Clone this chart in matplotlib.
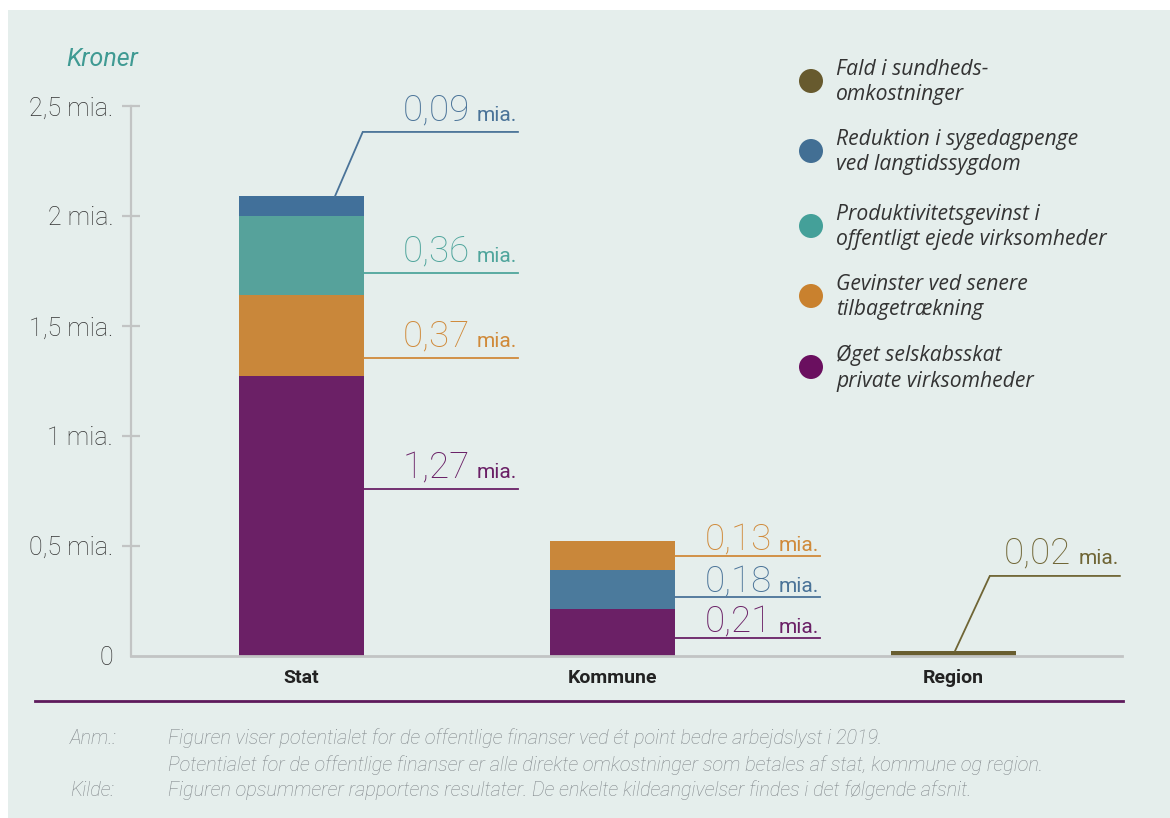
import matplotlib
matplotlib.use("Agg")
import matplotlib.pyplot as plt
from matplotlib.patches import Rectangle, Ellipse
from matplotlib.transforms import offset_copy

# ---------------- data ----------------
categories = ["Stat", "Kommune", "Region"]
series_names = ["Fald i sundheds-\nomkostninger",
                "Reduktion i sygedagpenge\nved langtidssygdom",
                "Produktivitetsgevinst i\noffentligt ejede virksomheder",
                "Gevinster ved senere\ntilbagetrækning",
                "Øget selskabsskat\nprivate virksomheder"]
sundhed = [0.0, 0.0, 0.02]
sygedagpenge = [0.09, 0.18, 0.0]
produktivitet = [0.36, 0.0, 0.0]
tilbagetraekning = [0.37, 0.13, 0.0]
selskabsskat = [1.27, 0.21, 0.0]
yticks = [0, 0.5, 1, 1.5, 2, 2.5]
ytick_labels = ["0", "0,5 mia.", "1 mia.", "1,5 mia.", "2 mia.", "2,5 mia."]

series_values = [sundhed, sygedagpenge, produktivitet, tilbagetraekning, selskabsskat]
series_colors = ["#695e30", "#41709a", "#56a29b", "#c9873a", "#6b2066"]
legend_colors = ["#675a2e", "#426f94", "#44a099", "#c9812e", "#6a0f5f"]
label_colors = ["#6f6535", "#4a7398", "#4fa59c", "#d08a3a", "#6a2066"]

# stacking order (series index) per category, bottom to top
stack_order = [[4, 3, 2, 1], [4, 1, 3], [0]]

# ---------------- layout ----------------
W, H = 1170, 818
fig = plt.figure(figsize=(W / 100, H / 100), dpi=100, facecolor="white")
bg = "#e5eeec"
fig.patches.append(Rectangle((8 / W, 0), 1, (H - 10) / H, transform=fig.transFigure,
                             facecolor=bg, edgecolor="none", zorder=-10))

def fx(px):
    return px / W

def fy(py):
    return 1 - py / H

ax_left, ax_right, ax_top, ax_bot = 131, 1122, 106, 655.5
ax = fig.add_axes([fx(ax_left), fy(ax_bot), (ax_right - ax_left) / W, (ax_bot - ax_top) / H])
ax.set_facecolor("none")

positions = [0, 1, 2.096]
bar_w = 0.4
ax.set_xlim(-0.548, 2.638)
ax.set_ylim(0, 2.5)

for ci, order in enumerate(stack_order):
    bottom = 0.0
    for si in order:
        v = series_values[si][ci]
        col = series_colors[si]
        if ci == 1 and si == 1:
            col = "#4b7a9c"
        ax.bar(positions[ci], v, bottom=bottom, width=bar_w, color=col,
               linewidth=0, zorder=3)
        bottom += v

for s in ["top", "right"]:
    ax.spines[s].set_visible(False)
ax.spines["left"].set_color("#c2c4c4")
ax.spines["left"].set_linewidth(1.6)
ax.spines["bottom"].set_color("#c2c4c4")
ax.spines["bottom"].set_linewidth(2.0)
ax.spines["bottom"].set_zorder(4)

num_font = dict(family="Roboto", fontweight="light")
ax.set_yticks(yticks)
ax.set_yticklabels(ytick_labels, fontsize=18, color="#333333", **num_font)
ax.tick_params(axis="y", direction="inout", length=13.5, width=1.6, color="#c2c4c4", pad=6)
ax.yaxis.get_major_ticks()[0].tick1line.set_visible(False)
ax.set_xticks(positions)
ax.set_xticklabels(categories, fontsize=14, fontweight="bold", color="#222222", family="Roboto")
ax.tick_params(axis="x", length=0, pad=10)

# ---------------- value labels ----------------
# (category index, series index, label line y, line end offset, elbow (start dx, elbow dx) or None, text gap px)
label_specs = [
    (0, 4, 0.757, 0.696, None, 11),
    (0, 3, 1.355, 0.696, None, 11),
    (0, 2, 1.742, 0.696, None, 11),
    (0, 1, 2.382, 0.696, (0.108, 0.197), 11),
    (1, 3, 0.453, 0.667, None, 5),
    (1, 1, 0.266, 0.667, None, 5),
    (1, 4, 0.080, 0.667, None, 5),
    (2, 0, 0.362, 0.535, (0.005, 0.117), 12),
]

mia_texts = []
for ci, si, ly, end_off, elbow, gap in label_specs:
    xc = positions[ci]
    v = series_values[si][ci]
    col = label_colors[si]
    if elbow is None:
        xs = [xc + bar_w / 2, xc + end_off]
        ys = [ly, ly]
    else:
        top = sum(series_values[k][ci] for k in stack_order[ci])
        xs = [xc + elbow[0], xc + elbow[1], xc + end_off]
        ys = [top, ly, ly]
    ax.plot(xs, ys, color=col, lw=1.3, clip_on=False, zorder=5, solid_joinstyle="miter")
    tr = offset_copy(ax.transData, fig=fig, x=-1, y=gap, units="dots")
    t_mia = ax.text(xc + end_off, ly, "mia.", transform=tr, ha="right", va="baseline",
                    fontsize=15, color=col, family="Roboto", clip_on=False)
    mia_texts.append((t_mia, xc + end_off, ly, gap, col, v))

fig.canvas.draw()
renderer = fig.canvas.get_renderer()
for t_mia, x, ly, gap, col, v in mia_texts:
    wpx = t_mia.get_window_extent(renderer).width
    tr = offset_copy(ax.transData, fig=fig, x=-(wpx + 8), y=gap, units="dots")
    ax.text(x, ly, f"{v:.2f}".replace(".", ","), transform=tr, ha="right", va="baseline",
            fontsize=26.5, color=col, clip_on=False, **num_font)

# ---------------- legend ----------------
leg_x_circle, leg_x_text = 811, 836
leg_y = [81, 151, 226, 296, 367]
for name, col, y in zip(series_names, legend_colors, leg_y):
    fig.patches.append(Ellipse((fx(leg_x_circle), fy(y)), 24 / W, 24 / H, transform=fig.transFigure,
                               facecolor=col, edgecolor="none"))
    fig.text(fx(leg_x_text), fy(y + 1), name, ha="left", va="center", fontsize=15.2,
             family="Open Sans", style="italic", color="#333333", linespacing=1.3)

# ---------------- titles / notes ----------------
fig.text(fx(66), fy(66), "Kroner", ha="left", va="baseline", fontsize=18,
         family="Roboto", style="italic", color="#3f9a93")

fig.add_artist(plt.Line2D([fx(35), fx(1123)], [fy(701), fy(701)], transform=fig.transFigure,
                          color="#5e1a5c", lw=2.0))

note_kw = dict(fontsize=14.3, family="Roboto", style="italic", fontweight="light",
               color="#80868a", ha="left", va="center")
fig.text(fx(70), fy(738), "Anm.:", **note_kw)
fig.text(fx(168), fy(738), "Figuren viser potentialet for de offentlige finanser ved ét point bedre arbejdslyst i 2019.", **note_kw)
fig.text(fx(168), fy(765), "Potentialet for de offentlige finanser er alle direkte omkostninger som betales af stat, kommune og region.", **note_kw)
fig.text(fx(70), fy(790), "Kilde:", **note_kw)
fig.text(fx(168), fy(790), "Figuren opsummerer rapportens resultater. De enkelte kildeangivelser findes i det følgende afsnit.", **note_kw)

fig.savefig("out.png", dpi=100, facecolor="white")
